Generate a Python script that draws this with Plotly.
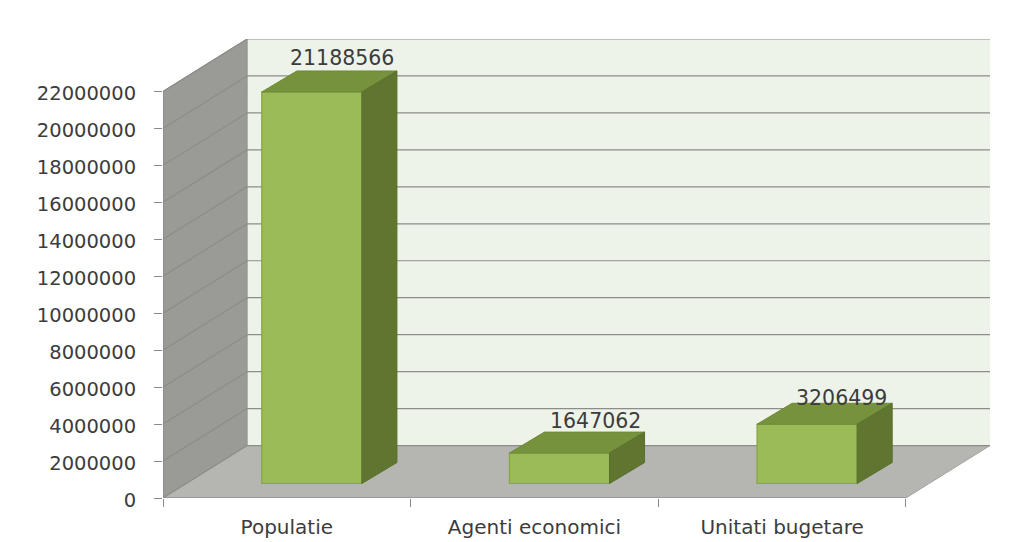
import plotly.graph_objects as go

# ---- data ----
categories = ["Populatie", "Agenti economici", "Unitati bugetare"]
values = [21188566, 1647062, 3206499]
y_ticks = [0, 2000000, 4000000, 6000000, 8000000, 10000000, 12000000,
           14000000, 16000000, 18000000, 20000000, 22000000]

# ---- projection of the pseudo-3D box (axis units) ----
PX_X = (905 - 163) / 3            # pixels per category
PX_Y = 37 / 2000000               # pixels per value unit
DX = 84 / PX_X                    # wall depth
DY = 52.5 / PX_Y
BAR_W = 100 / PX_X
BAR_OFF = 0.601                   # bar centre inside its category
BAR_BASE = 14.5 / PX_Y            # lift of the bar foot above the axis
BAR_DX = 35 / PX_X                # bar depth
BAR_DY = 21 / PX_Y
N = len(categories)
Y_MAX = y_ticks[-1]

fig = go.Figure()

# walls and floor
fig.add_shape(type="rect", x0=DX, x1=N + DX, y0=DY, y1=Y_MAX + DY, layer="below",
              fillcolor="#EEF3EA", line=dict(width=0))
fig.add_shape(type="path", layer="below", fillcolor="#9A9B96",
              line=dict(color="#8E8F8A", width=1),
              path=f"M0,0 L{DX},{DY} L{DX},{Y_MAX+DY} L0,{Y_MAX} Z")
fig.add_shape(type="path", layer="below", fillcolor="#B5B6B2",
              line=dict(color="#A2A3A0", width=1),
              path=f"M0,0 L{DX},{DY} L{N+DX},{DY} L{N},0 Z")

# gridlines on left and back wall
GRID = dict(color="#8C8D88", width=1.2)
for t in y_ticks:
    fig.add_shape(type="line", layer="below", x0=0, x1=DX, y0=t, y1=t + DY, line=GRID)
    fig.add_shape(type="line", layer="below", x0=DX, x1=N + DX, y0=t + DY, y1=t + DY, line=GRID)

# axis lines
fig.add_shape(type="line", layer="below", x0=0, x1=0, y0=0, y1=Y_MAX,
              line=dict(color="#8A8A8A", width=1.2))
fig.add_shape(type="line", layer="below", x0=0, x1=N, y0=0, y1=0,
              line=dict(color="#8A8A8A", width=1.2))

# front faces
fig.add_trace(go.Bar(
    x=[i + BAR_OFF for i in range(N)], y=values, base=BAR_BASE, width=BAR_W,
    marker=dict(color="#9BBB59", line=dict(color="#85A63F", width=1.2)),
    hoverinfo="skip"))

# top and side faces
for i, v in enumerate(values):
    l = i + BAR_OFF - BAR_W / 2
    r = l + BAR_W
    b = BAR_BASE
    t = BAR_BASE + v
    fig.add_trace(go.Scatter(
        x=[l, l + BAR_DX, r + BAR_DX, r, l], y=[t, t + BAR_DY, t + BAR_DY, t, t],
        mode="lines", fill="toself", fillcolor="#76923C", hoverinfo="skip",
        line=dict(color="#6E8A36", width=1)))
    fig.add_trace(go.Scatter(
        x=[r, r + BAR_DX, r + BAR_DX, r, r], y=[b, b + BAR_DY, t + BAR_DY, t, b],
        mode="lines", fill="toself", fillcolor="#5F7530", hoverinfo="skip",
        line=dict(color="#5A702C", width=1)))

# value labels
label_dx = [30, 36, 34]
label_dy = [13, 11, 5]
for i, v in enumerate(values):
    fig.add_annotation(
        x=i + BAR_OFF, y=BAR_BASE + v + BAR_DY, text=str(v), showarrow=False,
        xanchor="center", yanchor="middle",
        xshift=label_dx[i], yshift=label_dy[i],
        font=dict(family="DejaVu Sans", size=20.5, color="#3C3C3C"))

fig.update_layout(
    width=1013, height=542,
    margin=dict(l=163, r=23, t=39, b=43.5, pad=0, autoexpand=False),
    paper_bgcolor="white", plot_bgcolor="white",
    showlegend=False, barmode="overlay",
    font=dict(family="DejaVu Sans", size=19.5, color="#3C3C3C"),
    xaxis=dict(
        range=[0, N + DX], tickmode="array",
        tickvals=[i + 0.5 for i in range(N)], ticktext=categories,
        ticks="", showgrid=False, zeroline=False, showline=False,
        ticklabelstandoff=15, automargin=False, tickfont=dict(size=20),
        minor=dict(tickmode="array", tickvals=list(range(N + 1)), ticks="outside",
                   ticklen=8, tickcolor="#8A8A8A", tickwidth=1.2, showgrid=False),
    ),
    yaxis=dict(
        range=[0, Y_MAX + DY], tickmode="array", tickvals=y_ticks,
        ticktext=[str(t) for t in y_ticks], ticks="outside", ticklen=8,
        tickcolor="#8A8A8A", tickwidth=1.2, showgrid=False, zeroline=False,
        showline=False, ticklabelstandoff=14, automargin=False, ticklabelshift=2,
    ),
)

fig.write_html("out.html", config=dict(displayModeBar=False),
               post_script="document.body.style.margin='0';document.body.style.overflow='hidden';")
